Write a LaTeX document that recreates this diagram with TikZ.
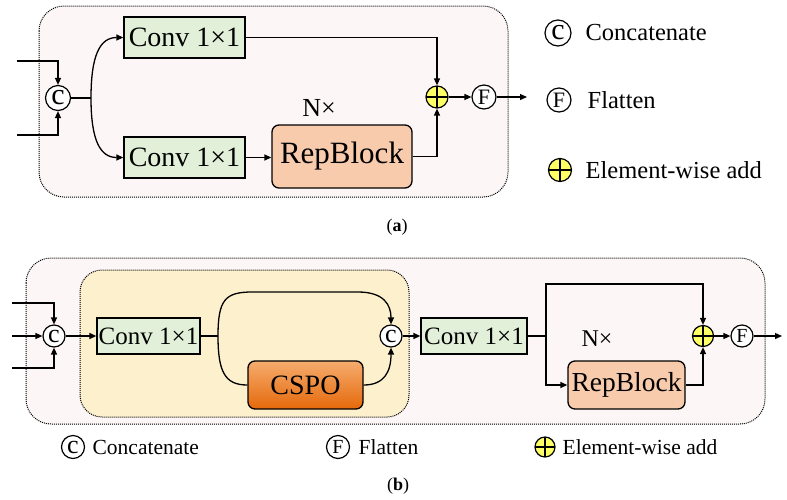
\documentclass[tikz,border=0pt]{standalone}
\usepackage{fontspec}
\setmainfont{Liberation Serif}
\usetikzlibrary{arrows.meta}
\definecolor{bgpink}{HTML}{FDF6F6}
\definecolor{convgreen}{HTML}{E2F0D9}
\definecolor{reppeach}{HTML}{F8CBAD}
\definecolor{inneryellow}{HTML}{FDF0CC}
\definecolor{addyellow}{HTML}{FFFF66}
\definecolor{cspotop}{HTML}{F6AC6E}
\definecolor{cspobot}{HTML}{E4690B}
\newcommand{\fs}[1]{\fontsize{#1}{#1}\selectfont}
\begin{document}
\begin{tikzpicture}[x=1pt,y=-1pt,line width=1.3pt,
  arr/.style={-{Triangle[length=7pt,width=6pt]}},
  dotbox/.style={draw, line width=1pt, dash pattern=on 1pt off 1pt},
  convbox/.style={draw, fill=convgreen, inner sep=0pt, line width=1.3pt},
  repbox/.style={draw, fill=reppeach, rounded corners=7pt, inner sep=0pt, line width=1.3pt},
  cspobox/.style={draw, top color=cspotop, bottom color=cspobot, rounded corners=7pt, inner sep=0pt, line width=1.3pt},
  letternode/.style={circle, draw, fill=white, minimum size=#1, inner sep=0pt, line width=1.2pt},
  addnode/.style={circle, draw, fill=addyellow, minimum size=#1, inner sep=0pt, line width=1.2pt,
    path picture={\draw[line width=1.1pt] (path picture bounding box.north) -- (path picture bounding box.south)
      (path picture bounding box.west) -- (path picture bounding box.east);}},
  lbl/.style={anchor=west, inner sep=0pt}
]
\useasboundingbox (0,0) rectangle (787,499);

% ---------------- (a) ----------------
\draw[dotbox, fill=bgpink, rounded corners=25pt] (39,6) rectangle (508,197);
\node[convbox, minimum width=121pt, minimum height=41pt, font=\fs{28}] (conva1) at (184.5,37.5) {Conv 1×1};
\node[convbox, minimum width=121pt, minimum height=41pt, font=\fs{28}] (conva2) at (184.5,157.5) {Conv 1×1};
\node[repbox, minimum width=140pt, minimum height=63pt, font=\fs{31}] (repa) at (342,156.5) {RepBlock};
\node[font=\fs{26}] (na) at (319,108) {N×};
\node[letternode=25pt, font=\fs{30}] (ca) at (58,98) {c};
\node[addnode=22pt] (adda) at (437,97) {};
\node[letternode=24pt, font=\fs{22}] (fa) at (484,97) {F};
\coordinate (ina1) at (17,61);
\coordinate (ina2) at (17,135);
\coordinate (splita) at (91,98);
\coordinate (outa) at (527,97);
\draw[arr] (ina1) -| (ca.north);
\draw[arr] (ina2) -| (ca.south);
\draw (ca.east) -- (splita);
\draw[arr] (splita) .. controls (91,55) and (100,37.5) .. (conva1.west);
\draw[arr] (splita) .. controls (91,140) and (100,157.5) .. (conva2.west);
\draw[arr] (conva2.east) -- (conva2.east -| repa.west);
\draw[arr] (conva1.east) -| (adda.north);
\draw[arr] (repa.east) -| (adda.south);
\draw[arr] (adda) -- (fa);
\draw[arr] (fa) -- (outa);

% legend (a)
\node[letternode=26pt, font=\fs{30}] (lca) at (558,33) {c};
\node[lbl, font=\fs{24.5}] (lcat) at (585,33) {Concatenate};
\node[letternode=24pt, font=\fs{22}] (lfa) at (559,100) {F};
\node[lbl, font=\fs{24.5}] (lfat) at (587,100) {Flatten};
\node[addnode=23pt] (laa) at (560,170) {};
\node[lbl, font=\fs{24.5}] (laat) at (585,170) {Element-wise add};
\node[font=\fs{18}] (capa) at (397,227) {(\textbf{a})};

% ---------------- (b) ----------------
\draw[dotbox, fill=bgpink, rounded corners=25pt] (26,258) rectangle (765,424);
\draw[dotbox, fill=inneryellow, rounded corners=22pt] (80,270) rectangle (409,417);
\node[letternode=22pt, font=\fs{26}] (cb1) at (54,336) {c};
\node[convbox, minimum width=103pt, minimum height=36pt, font=\fs{25}] (convb1) at (148.5,336) {Conv 1×1};
\node[cspobox, minimum width=115pt, minimum height=48pt, font=\fs{28}] (cspo) at (305.5,385) {CSPO};
\node[letternode=22pt, font=\fs{26}] (cb2) at (391,336) {c};
\node[convbox, minimum width=106pt, minimum height=36pt, font=\fs{25}] (convb2) at (474,336) {Conv 1×1};
\node[repbox, minimum width=117pt, minimum height=48pt, font=\fs{27.5}] (repb) at (626.5,385) {RepBlock};
\node[font=\fs{24}] (nb) at (597,339) {N×};
\node[addnode=21pt] (addb) at (703,336) {};
\node[letternode=22pt, font=\fs{20}] (fb) at (742,336) {F};
\coordinate (inb1) at (12,303);
\coordinate (inb2) at (12,336);
\coordinate (inb3) at (12,368);
\coordinate (splitb1) at (218,336);
\coordinate (splitb2) at (546,336);
\coordinate (topb) at (546,284);
\coordinate (outb) at (782,336);
\draw[arr] (inb1) -| (cb1.north);
\draw[arr] (inb2) -- (cb1.west);
\draw[arr] (inb3) -| (cb1.south);
\draw[arr] (cb1) -- (convb1);
\draw (convb1.east) -- (splitb1);
\draw[arr] (splitb1) .. controls (218,300) and (225,292) .. (252,292) -- (358,292) .. controls (384,292) and (391,305) .. (cb2.north);
\draw (splitb1) .. controls (218,372) and (225,385) .. (cspo.west);
\draw[arr] (cspo.east) .. controls (384,385) and (391,372) .. (cb2.south);
\draw[arr] (cb2) -- (convb2);
\draw (convb2.east) -- (splitb2);
\draw[arr] (splitb2) -- (topb) -| (addb.north);
\draw[arr] (splitb2) |- (repb.west);
\draw[arr] (repb.east) -| (addb.south);
\draw[arr] (addb) -- (fb);
\draw[arr] (fb) -- (outb);

% legend (b)
\node[letternode=23pt, font=\fs{26}] (lcb) at (73,447) {c};
\node[lbl, font=\fs{21.5}] (lcbt) at (92,447) {Concatenate};
\node[letternode=23pt, font=\fs{20}] (lfb) at (338,447) {F};
\node[lbl, font=\fs{21.5}] (lfbt) at (358,447) {Flatten};
\node[addnode=20pt] (lab) at (545,447) {};
\node[lbl, font=\fs{21.5}] (labt) at (562,447) {Element-wise add};
\node[font=\fs{18}] (capb) at (398,486) {(\textbf{b})};
\end{tikzpicture}
\end{document}
